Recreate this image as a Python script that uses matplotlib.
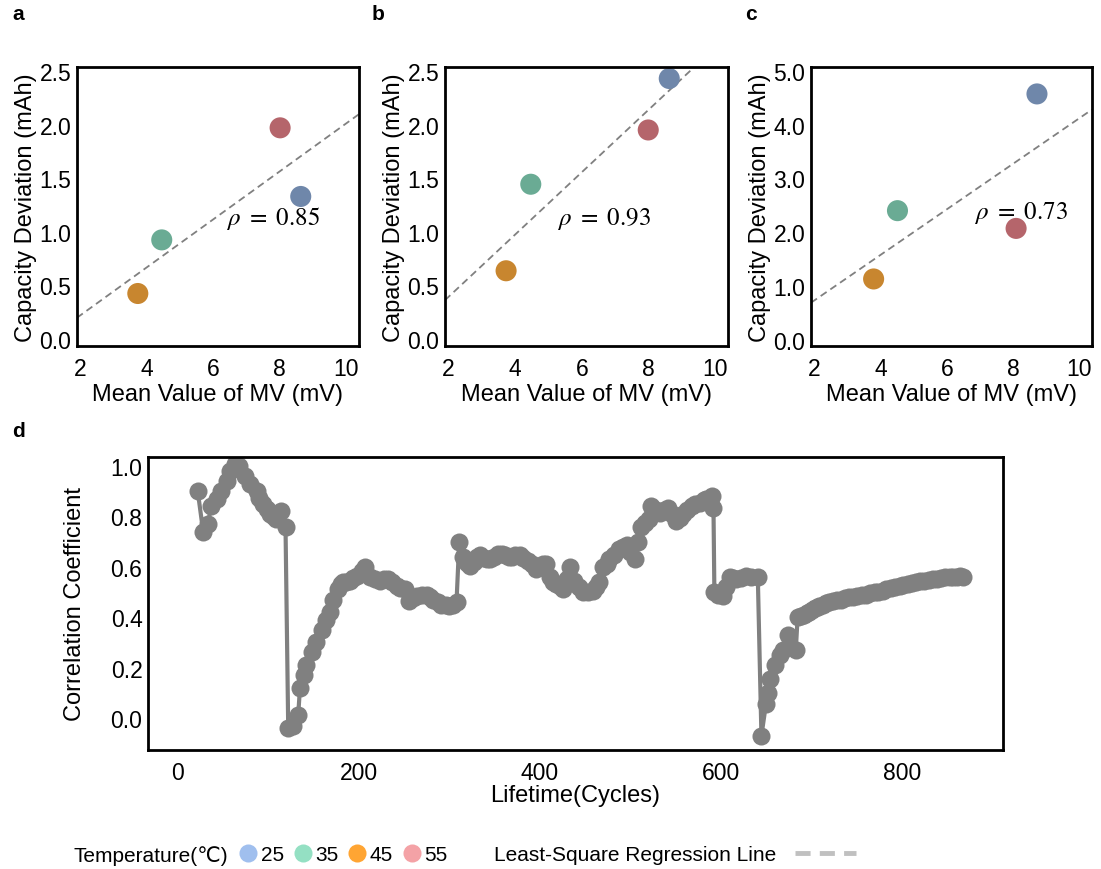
import matplotlib
matplotlib.use("Agg")
import matplotlib.pyplot as plt
import numpy as np
from matplotlib.lines import Line2D

plt.rcParams["font.family"] = ["Liberation Sans", "DejaVu Sans"]
plt.rcParams["mathtext.fontset"] = "stix"
plt.rcParams["axes.linewidth"] = 2

# mean MV (mV) per temperature: 25, 35, 45, 55 degC
temps = ["25", "35", "45", "55"]
mv_a = [8.63, 4.45, 3.73, 8.01]
cap_a = [1.33, 0.925, 0.425, 1.97]
mv_b = [8.62, 4.47, 3.73, 7.99]
cap_b = [2.43, 1.444, 0.637, 1.95]
mv_c = [8.72, 4.51, 3.79, 8.09]
cap_c = [4.57, 2.40, 1.13, 2.07]
rho = [0.85, 0.93, 0.73]

# correlation coefficient along cycle life
cycles = [22, 28, 33, 37, 43, 48, 54, 58, 63, 68, 74, 80, 87, 90, 94, 98, 102, 105, 109, 114, 119,
          122, 127, 133, 135, 139, 142, 148, 153, 159, 164, 168, 172, 177, 180, 183, 186, 190,
          194, 198, 203, 207, 212, 218, 223, 228, 232, 237, 242, 246, 251, 256, 260, 264, 270,
          275, 279, 282, 287, 291, 296, 300, 304, 308,
          311, 315, 317, 320, 323, 327, 331, 334, 338, 342, 345, 349, 354, 358, 362, 366, 369,
          373, 378, 382, 387, 391, 396, 400, 404, 407, 411, 415, 418, 422, 426, 430, 433, 438,
          443, 448, 453, 459, 462, 466, 470, 474, 477, 482, 488, 492, 496, 500, 505, 509, 512,
          516, 521, 523, 528, 533, 537, 542, 546, 551, 555, 558, 563, 568, 572, 577, 581, 584,
          590, 592,
          593, 597, 602, 606, 610, 614, 617, 622, 628, 634, 641,
          645, 650, 652, 654, 660, 665, 669, 674, 683, 685, 689, 692, 695, 698, 701, 704, 707,
          709, 713, 716, 720, 724, 728, 733, 737, 742, 746, 751, 756, 761, 765, 770, 774, 779,
          783, 788, 793, 798, 802, 807, 811, 816, 820, 825, 830, 835, 839, 844, 848, 853, 857,
          861, 865, 868]
corr = [0.90, 0.74, 0.77, 0.84, 0.87, 0.90, 0.94, 0.98, 1.01, 1.00, 0.96, 0.93, 0.90, 0.875,
        0.85, 0.83, 0.81, 0.80, 0.79, 0.82, 0.76,
        -0.04, -0.03, 0.01, 0.12, 0.17, 0.21, 0.26, 0.30, 0.35, 0.39, 0.42, 0.47, 0.51, 0.53,
        0.54, 0.54, 0.545, 0.555, 0.565, 0.585, 0.60, 0.56, 0.55, 0.545, 0.55, 0.55, 0.54,
        0.525, 0.515, 0.51, 0.465, 0.475, 0.485, 0.49, 0.49, 0.48, 0.47, 0.46, 0.45, 0.447,
        0.445, 0.45, 0.46,
        0.70, 0.64, 0.63, 0.615, 0.605, 0.62, 0.64, 0.645, 0.635, 0.63, 0.63, 0.64, 0.65,
        0.65, 0.645, 0.64, 0.64, 0.645, 0.645, 0.635, 0.625, 0.61, 0.59, 0.60, 0.61, 0.61,
        0.56, 0.54, 0.53, 0.525, 0.51, 0.55, 0.60, 0.545, 0.52, 0.50, 0.50, 0.505, 0.52,
        0.54, 0.60, 0.61, 0.63, 0.645, 0.67, 0.68, 0.685, 0.66, 0.63, 0.70, 0.76, 0.775,
        0.79, 0.84, 0.825, 0.815, 0.825, 0.835, 0.81, 0.78, 0.795, 0.81, 0.825, 0.84, 0.85,
        0.855, 0.865, 0.87, 0.88, 0.835,
        0.50, 0.49, 0.485, 0.52, 0.56, 0.555, 0.55, 0.555, 0.565, 0.56, 0.56,
        -0.07, 0.055, 0.10, 0.155, 0.21, 0.25, 0.27, 0.33, 0.27, 0.40, 0.405, 0.41, 0.415,
        0.42, 0.43, 0.435, 0.44, 0.445, 0.45, 0.455, 0.46, 0.465, 0.468, 0.47, 0.475, 0.48,
        0.482, 0.485, 0.488, 0.49, 0.495, 0.50, 0.50, 0.505, 0.51, 0.515, 0.52, 0.525, 0.527,
        0.53, 0.535, 0.54, 0.542, 0.545, 0.548, 0.55, 0.553, 0.555, 0.558, 0.56, 0.56, 0.56,
        0.562, 0.56]

dot_colors = ["#6f87aa", "#6aab94", "#c8862f", "#b5656b"]
leg_colors = ["#a0bfee", "#94e0c3", "#ffa533", "#f4a2a6"]

fig = plt.figure(figsize=(11.01, 8.70), dpi=100)

panels = [
    ([0.0699, 0.6011, 0.2561, 0.3207], mv_a, cap_a, (-0.065, 2.537), [0, 0.5, 1.0, 1.5, 2.0, 2.5], (6.38, 1.13)),
    ([0.4042, 0.6011, 0.2570, 0.3207], mv_b, cap_b, (-0.065, 2.537), [0, 0.5, 1.0, 1.5, 2.0, 2.5], (5.25, 1.13)),
    ([0.7366, 0.6011, 0.2552, 0.3207], mv_c, cap_c, (-0.117, 5.07), [0, 1, 2, 3, 4, 5], (6.83, 2.38)),
]

for i, (pos, x, y, ylim, yt, tpos) in enumerate(panels):
    ax = fig.add_axes(pos)
    ax.set_xlim(1.9, 10.38)
    ax.set_ylim(*ylim)
    # least-squares fit across the whole x range
    k, b = np.polyfit(x, y, 1)
    xx = np.array(ax.get_xlim())
    ax.plot(xx, k * xx + b, ls=(0, (4, 2.5)), color="#808080", lw=1.3, zorder=1)
    ax.scatter(x, y, s=230, c=dot_colors, edgecolors="none", zorder=2)
    ax.text(tpos[0], tpos[1], r"$\rho\ =\ %.2f$" % rho[i], fontsize=18, va="center", ha="left")
    ax.set_xticks([2, 4, 6, 8, 10])
    ax.set_yticks(yt)
    ax.set_yticklabels(["%.1f" % v for v in yt])
    ax.tick_params(length=0, labelsize=16.5)
    ax.tick_params(axis="x", pad=8)
    ax.tick_params(axis="y", pad=4)
    ax.set_xlabel("Mean Value of MV (mV)", fontsize=17, labelpad=2)
    ax.set_ylabel("Capacity Deviation (mAh)", fontsize=17, labelpad=2)

axd = fig.add_axes([0.1344, 0.1368, 0.7766, 0.3368])
axd.plot(cycles, corr, "o-", color="#808080", lw=3, ms=13, mec="none")
axd.set_xlim(-33, 912)
axd.set_ylim(-0.127, 1.036)
axd.set_xticks([0, 200, 400, 600, 800])
axd.set_yticks([0, 0.2, 0.4, 0.6, 0.8, 1.0])
axd.set_yticklabels(["%.1f" % v for v in [0, 0.2, 0.4, 0.6, 0.8, 1.0]])
axd.tick_params(length=0, labelsize=16.5)
axd.tick_params(axis="x", pad=8)
axd.tick_params(axis="y", pad=4)
axd.set_xlabel("Lifetime(Cycles)", fontsize=17, labelpad=0)
axd.set_ylabel("Correlation Coefficient", fontsize=17, labelpad=18)

for lbl, px, py in [("a", 12, 15), ("b", 372, 15), ("c", 745, 15), ("d", 12, 432)]:
    fig.text(px / 1101, 1 - py / 870, lbl, fontsize=15, fontweight="bold", va="center", ha="left")

# bottom legend
fig.text(73 / 1101, 1 - 856 / 870, "Temperature(\u2103)", fontsize=15, va="center", ha="left")
temp_handles = [Line2D([], [], ls="none", marker="o", ms=13, color=c, mec="none") for c in leg_colors]
fig.legend(temp_handles, temps, loc="center left", bbox_to_anchor=(238 / 1101, 1 - 856 / 870),
           ncol=4, frameon=False, fontsize=15, handletextpad=0.1, columnspacing=0.4,
           handlelength=1.0, borderpad=0, borderaxespad=0)
reg_handle = Line2D([], [], ls=(0, (3.1, 1.9)), color="#c0c0c0", lw=3.5, dash_capstyle="butt")
fig.legend([reg_handle], ["Least-Square Regression Line"], loc="center left",
           bbox_to_anchor=(494 / 1101, 1 - 856 / 870), frameon=False, fontsize=15,
           markerfirst=False, handlelength=2.95, handletextpad=0.9, borderpad=0, borderaxespad=0)

fig.savefig("out.png", dpi=100)
